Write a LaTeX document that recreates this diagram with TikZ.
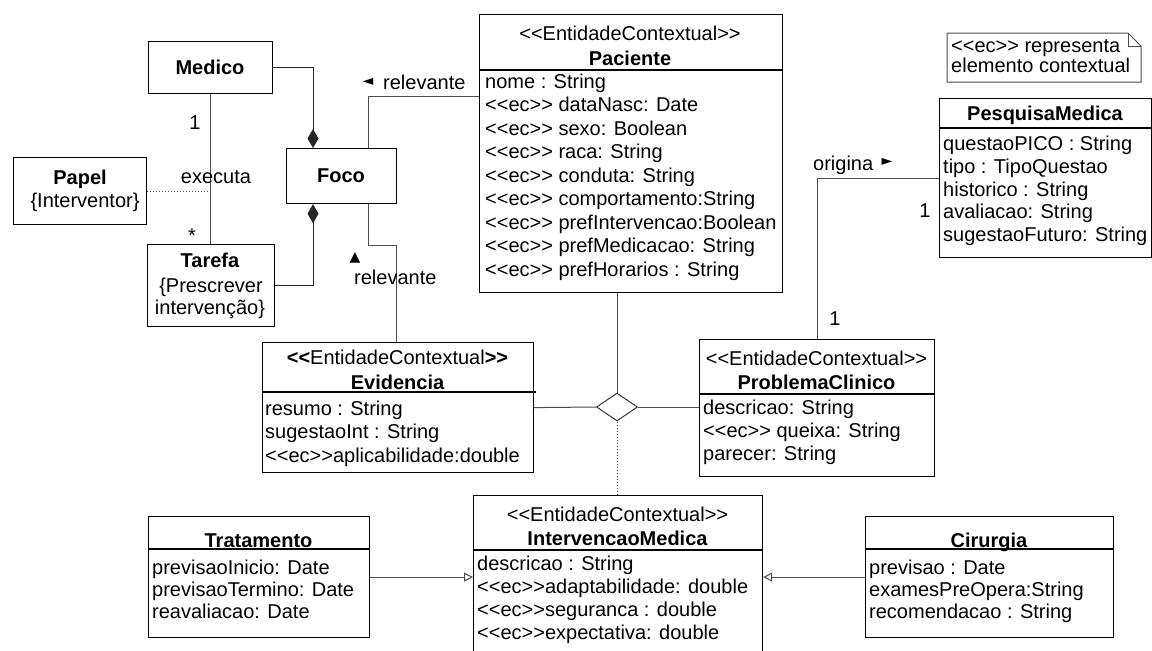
\documentclass[tikz,border=0pt]{standalone}
\usepackage{fontspec}
\setmainfont{Liberation Sans}[Ligatures=TeXOff]
\newfontfamily\symfont{DejaVu Sans}
\usetikzlibrary{arrows.meta,shapes.geometric,calc}
\begin{document}
\begin{tikzpicture}[x=1pt,y=-1pt,
  box/.style={draw=black,line width=1.2pt,inner sep=0pt,anchor=north west,fill=white},
  conn/.style={draw=black!70,line width=1pt},
  sepl/.style={draw=black,line width=1.1pt},
  txt/.style={inner sep=0pt,anchor=base west,font=\fontsize{20}{23}\selectfont},
  ctxt/.style={inner sep=0pt,anchor=base,font=\fontsize{20}{23}\selectfont},
  btxt/.style={inner sep=0pt,anchor=base,font=\fontsize{20}{23}\selectfont\bfseries},
  tri/.style={inner sep=0pt,font=\symfont\fontsize{14}{14}\selectfont},
  comp/.style={draw=black!85,line width=1pt,-{Diamond[length=19pt,width=11pt]}},
  gen/.style={conn,-{Triangle[open,length=9pt,width=9pt,fill=white]}},
]
\clip (0,0) rectangle (1152,651);
\fill[white] (0,0) rectangle (1152,651);

% ---------- boxes ----------
\node[box,minimum width=124pt,minimum height=52pt] (medico) at (148,41) {};
\node[box,minimum width=133pt,minimum height=67pt] (papel) at (13,157) {};
\node[box,minimum width=110pt,minimum height=55pt] (foco) at (286,148) {};
\node[box,minimum width=127pt,minimum height=82pt] (tarefa) at (147,244) {};
\node[box,minimum width=303pt,minimum height=278pt] (paciente) at (479,14) {};
\node[box,minimum width=271pt,minimum height=130pt] (evid) at (262,342) {};
\node[box,minimum width=235pt,minimum height=137pt] (probl) at (699,339) {};
\node[box,minimum width=212pt,minimum height=159pt] (pesq) at (939,98) {};
\node[box,minimum width=221pt,minimum height=121pt] (trat) at (148,516) {};
\node[box,minimum width=289pt,minimum height=170pt] (interv) at (473,495) {};
\node[box,minimum width=248pt,minimum height=121pt] (cir) at (865,516) {};
\node[diamond,draw=black!80,line width=1pt,fill=white,minimum width=41pt,minimum height=28pt,inner sep=0pt] (dia) at (617,407) {};

% ---------- note ----------
\draw[draw=black!70,line width=1pt,fill=white] (947,33) -- (1128,33) -- (1141,46) -- (1141,82) -- (947,82) -- cycle;
\draw[draw=black!70,line width=1pt] (1128,33) -- (1128,46) -- (1141,46);
\node[txt] (note1) at (951,52) {<<ec>> representa};
\node[txt] (note2) at (951,72) {elemento contextual};

% ---------- separators ----------
\draw[sepl] (paciente.north west |- 0,70) -- (paciente.north east |- 0,70);
\draw[sepl] (evid.north west |- 0,392) -- ($(evid.north east |- 0,392)+(2,0)$);
\draw[sepl] (probl.north west |- 0,394) -- (probl.north east |- 0,394);
\draw[sepl] (pesq.north west |- 0,128) -- (pesq.north east |- 0,128);
\draw[sepl] (trat.north west |- 0,549) -- (trat.north east |- 0,549);
\draw[sepl] (interv.north west |- 0,550) -- (interv.north east |- 0,550);
\draw[sepl] (cir.north west |- 0,549) -- (cir.north east |- 0,549);

% ---------- texts ----------
\node[btxt] (tMed) at (210,74) {Medico};
\node[btxt] (tPap) at (80,184) {Papel};
\node[ctxt] (tPap2) at (85,207) {\{Interventor\}};
\node[btxt] (tFoco) at (341,182) {Foco};
\node[btxt] (tTar) at (210,267) {Tarefa};
\node[ctxt] (tTar2) at (211,292) {\{Prescrever};
\node[ctxt] (tTar3) at (210,314) {intervenção\}};

\node[ctxt] (pS) at (630,40) {<<EntidadeContextual>>};
\node[btxt] (pN) at (630,65) {Paciente};
\node[txt] (p1) at (485,88) {nome : String};
\node[txt] (p2) at (485,111.5) {<<ec>> dataNasc: Date};
\node[txt] (p3) at (485,135) {<<ec>> sexo: Boolean};
\node[txt] (p4) at (485,158.5) {<<ec>> raca: String};
\node[txt] (p5) at (485,182) {<<ec>> conduta: String};
\node[txt] (p6) at (485,205.5) {<<ec>> comportamento:String};
\node[txt] (p7) at (485,229) {<<ec>> prefIntervencao:Boolean};
\node[txt] (p8) at (485,252.5) {<<ec>> prefMedicacao: String};
\node[txt] (p9) at (485,276) {<<ec>> prefHorarios : String};

\node[ctxt] (eS) at (397.5,364) {\textbf{<<}EntidadeContextual\textbf{>>}};
\node[btxt] (eN) at (397.5,389) {Evidencia};
\node[txt] (e1) at (265,415) {resumo : String};
\node[txt] (e2) at (265,438) {sugestaoInt : String};
\node[txt] (e3) at (265,462) {<<ec>>aplicabilidade:double};

\node[ctxt] (cS) at (816.5,365) {<<EntidadeContextual>>};
\node[btxt] (cN) at (816.5,389) {ProblemaClinico};
\node[txt] (c1) at (703,414) {descricao: String};
\node[txt] (c2) at (703,437) {<<ec>> queixa: String};
\node[txt] (c3) at (703,460) {parecer: String};

\node[btxt] (qN) at (1045,120) {PesquisaMedica};
\node[txt] (q1) at (943,150) {questaoPICO : String};
\node[txt] (q2) at (943,173) {tipo : TipoQuestao};
\node[txt] (q3) at (943,196) {historico : String};
\node[txt] (q4) at (943,218) {avaliacao: String};
\node[txt] (q5) at (943,241) {sugestaoFuturo: String};

\node[btxt] (tN) at (258.5,547) {Tratamento};
\node[txt] (t1) at (152,574) {previsaoInicio: Date};
\node[txt] (t2) at (152,596) {previsaoTermino: Date};
\node[txt] (t3) at (152,618) {reavaliacao: Date};

\node[ctxt] (iS) at (617.5,521) {<<EntidadeContextual>>};
\node[btxt] (iN) at (617.5,545) {IntervencaoMedica};
\node[txt] (i1) at (477,570) {descricao : String};
\node[txt] (i2) at (477,593) {<<ec>>adaptabilidade: double};
\node[txt] (i3) at (477,616) {<<ec>>seguranca : double};
\node[txt] (i4) at (477,639) {<<ec>>expectativa: double};

\node[btxt] (rN) at (989,547) {Cirurgia};
\node[txt] (r1) at (869,574) {previsao : Date};
\node[txt] (r2) at (869,596) {examesPreOpera:String};
\node[txt] (r3) at (869,618) {recomendacao : String};

% ---------- connectors ----------
\draw[conn] (medico.south) -- (medico.south |- tarefa.north);
\draw[conn,dotted] (papel.east) -- (papel.east -| medico.south);
\draw[comp] (medico.east) -| ($(foco.north west)+(27,0)$);
\draw[comp] ($(tarefa.north east)+(0,41)$) -| ($(foco.south west)+(27,0)$);
\draw[conn] ($(foco.north west)+(82,0)$) |- ($(paciente.north west)+(0,82)$);
\draw[conn] ($(foco.south west)+(82,0)$) -- ++(0,41) -| ($(evid.north west)+(134,0)$);
\draw[conn] (paciente.south -| dia.north) -- (dia.north);
\draw[conn] (evid.east) -- (dia.west);
\draw[conn] (dia.east) -- (dia.east -| probl.west);
\draw[conn,dotted] (dia.south) -- (dia.south |- interv.north);
\draw[conn] ($(probl.north west)+(118,0)$) |- ($(pesq.north west)+(0,80)$);
\draw[gen] (trat.east) -- (trat.east -| interv.west);
\draw[gen] (cir.west) -- (cir.west -| interv.east);

% ---------- connector labels ----------
\node[ctxt] (m1) at (195,129) {1};
\node[ctxt] (mex) at (216,183) {executa};
\node[ctxt] (mst) at (192,242) {*};
\node[tri] (a1) at (368,82) {◄};
\node[txt] (l1) at (383,89) {relevante};
\node[tri] (a2) at (355,258) {▲};
\node[txt] (l2) at (354,284) {relevante};
\node[txt] (l3) at (813,170) {origina};
\node[tri] (a3) at (887,162) {►};
\node[ctxt] (m2) at (835,325) {1};
\node[ctxt] (m3) at (925,217) {1};
\end{tikzpicture}
\end{document}
